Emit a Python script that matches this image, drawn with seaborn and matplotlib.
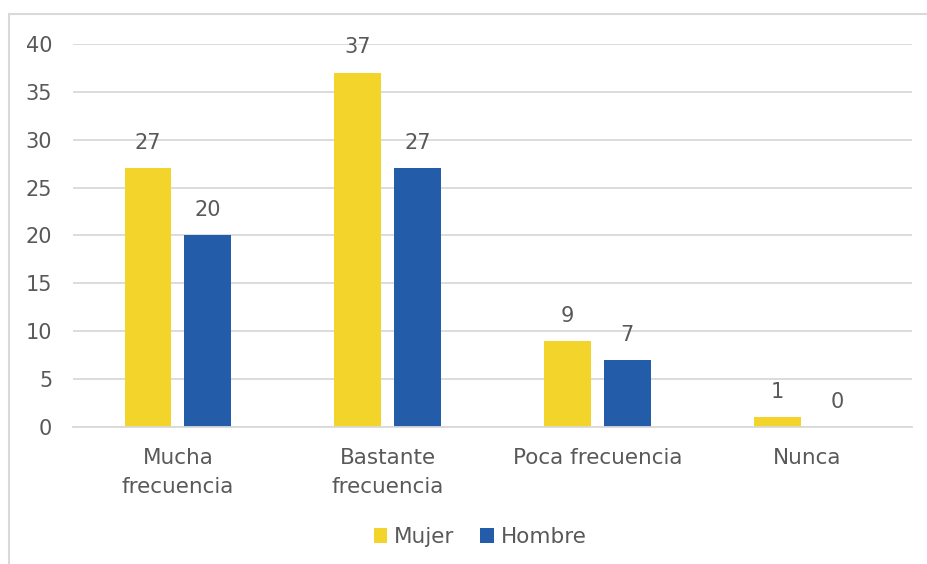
import pandas as pd
import matplotlib
matplotlib.use('Agg')
import matplotlib.pyplot as plt
import seaborn as sns
from matplotlib.patches import Rectangle

# Data
categorias = ['Mucha\nfrecuencia', 'Bastante\nfrecuencia', 'Poca frecuencia', 'Nunca']
mujer = [27, 37, 9, 1]
hombre = [20, 27, 7, 0]
series = ['Mujer', 'Hombre']

df = pd.DataFrame({
    'categoria': categorias * 2,
    'valor': mujer + hombre,
    'sexo': ['Mujer'] * len(categorias) + ['Hombre'] * len(categorias),
})

sns.set_theme(style='white')
plt.rcParams['font.family'] = ['DejaVu Sans']
text_color = '#595959'

fig = plt.figure(figsize=(9.27, 5.64), dpi=100)
ax = fig.add_axes([0.0788, 0.2429, 0.905, 0.6791])

sns.barplot(data=df, x='categoria', y='valor', hue='sexo', hue_order=series,
            palette={'Mujer': '#F2D42A', 'Hombre': '#235DA9'},
            saturation=1, linewidth=0,
            width=0.571, gap=0.217, ax=ax, legend=True)

for cont in ax.containers:
    ax.bar_label(cont, padding=11, fontsize=15, color=text_color)

ax.set_ylim(0, 40)
ax.set_xlim(-0.5, 3.5)
ax.set_yticks(range(0, 41, 5))
ax.yaxis.grid(True, color='#d9d9d9', linewidth=1.3)
ax.set_axisbelow(True)
for s in ['top', 'right', 'left']:
    ax.spines[s].set_visible(False)
ax.spines['bottom'].set_color('#d9d9d9')
ax.spines['bottom'].set_linewidth(1.3)
ax.set_xlabel('')
ax.set_ylabel('')
ax.tick_params(axis='y', length=0, labelsize=15, labelcolor=text_color, pad=15)
ax.tick_params(axis='x', length=0, labelsize=15.5, labelcolor=text_color, pad=15)
for lbl in ax.get_xticklabels():
    lbl.set_linespacing(1.55)

ax.legend(loc='center', bbox_to_anchor=(480 / 927, 1 - 537 / 564),
          bbox_transform=fig.transFigure, ncol=2, frameon=False,
          fontsize=15.5, handlelength=0.65, handleheight=0.65,
          handletextpad=0.3, columnspacing=1.2, labelcolor=text_color)

# outer border
fig.patches.append(Rectangle((9 / 927, -0.1), 1.2, 1 - 14 / 564 + 0.1,
                             transform=fig.transFigure, fill=False,
                             edgecolor='#d9d9d9', linewidth=1.5))

fig.savefig('out.png', dpi=100)
